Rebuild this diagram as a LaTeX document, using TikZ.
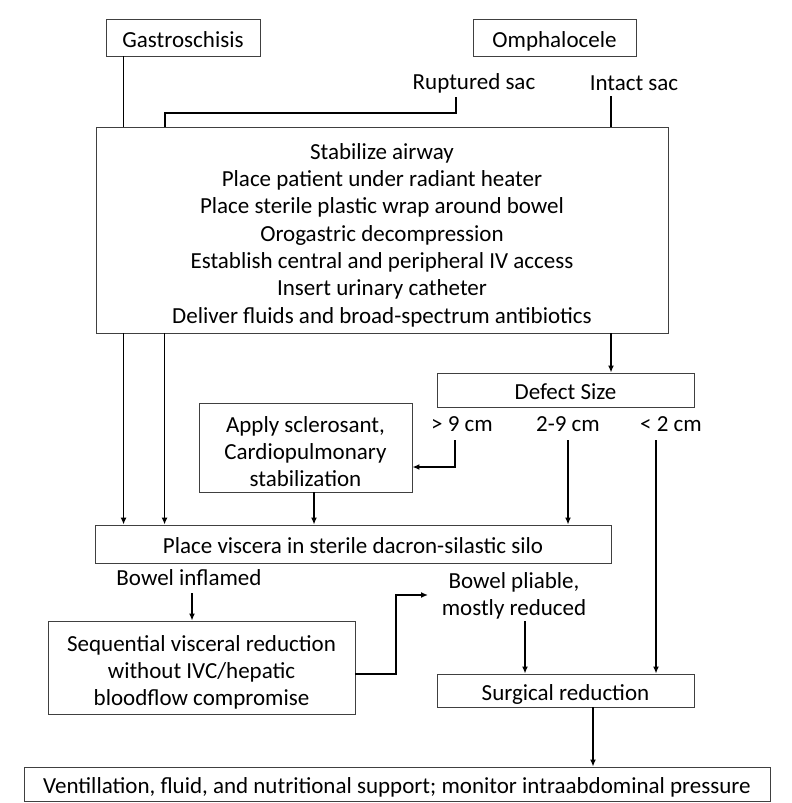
\documentclass[tikz,border=0pt]{standalone}
\usepackage{fontspec}
\setmainfont{Carlito}
\usetikzlibrary{arrows.meta,calc}
\begin{document}
\begin{tikzpicture}[x=1pt,y=-1pt,
  box/.style={draw=black!75,line width=0.9pt,rectangle,inner sep=2pt,align=center,font=\fontsize{23}{27.3}\selectfont},
  oneline/.style={text height=19pt,text depth=0pt},
  lbl/.style={inner sep=1pt,align=center,font=\fontsize{23}{27.3}\selectfont},
  conn/.style={line width=1.5pt,black},
  arr/.style={conn,-{Latex[length=7pt,width=6pt]}}]
\useasboundingbox[fill=white] (0,0) rectangle (792,803);
% boxes
\node[box,oneline,minimum width=154pt,minimum height=37pt] (gas) at (183,37.5) {Gastroschisis};
\node[box,oneline,minimum width=163pt,minimum height=37pt] (omph) at (554.5,37.5) {Omphalocele};
\node[box,minimum width=572pt,minimum height=206pt] (main) at (382,230) {};
\node[lbl] (maintext) at ($(main.center)+(0,5)$) {Stabilize airway\\Place patient under radiant heater\\Place sterile plastic wrap around bowel\\Orogastric decompression\\Establish central and peripheral IV access\\Insert urinary catheter\\Deliver fluids and broad-spectrum antibiotics};
\node[box,oneline,minimum width=257pt,minimum height=34pt] (defect) at (565.5,390) {Defect Size};
\node[box,minimum width=213pt,minimum height=89pt] (apply) at (305.5,447.5) {};
\node[lbl] (applytext) at ($(apply.center)+(0,4)$) {Apply sclerosant,\\Cardiopulmonary\\stabilization};
\node[box,oneline,minimum width=516pt,minimum height=38pt] (silo) at (353,544) {Place viscera in sterile dacron-silastic silo};
\node[box,minimum width=307pt,minimum height=93pt] (seq) at (201.5,667.5) {};
\node[lbl] (seqtext) at ($(seq.center)+(0,5)$) {Sequential visceral reduction\\without IVC/hepatic\\bloodflow compromise};
\node[box,oneline,minimum width=257pt,minimum height=33pt] (surg) at (565.5,690.5) {Surgical reduction};
\node[box,oneline,minimum width=746pt,minimum height=34pt] (vent) at (397,784) {Ventillation, fluid, and nutritional support; monitor intraabdominal pressure};
% labels
\node[lbl] (rupt) at (474,83) {Ruptured sac};
\node[lbl] (intact) at (634,83) {Intact sac};
\node[lbl] (gt) at (462,424) {> 9 cm};
\node[lbl] (mid) at (568,424) {2-9 cm};
\node[lbl] (lt) at (671,424) {< 2 cm};
\node[lbl] (infl) at (189,578) {Bowel inflamed};
\node[lbl] (pli) at (514,596) {Bowel pliable,\\mostly reduced};
% helper coordinates
\coordinate (g1) at ($(gas.south west)+(18,0)$);
\coordinate (r1) at (456,97);
\coordinate (r2) at (165,113);
\coordinate (i1) at (611,96);
\coordinate (m1) at ($(main.south west)+(28,0)$);
\coordinate (m2) at ($(main.south west)+(69,0)$);
\coordinate (m3) at (611,333);
\coordinate (gt1) at (455,440);
\coordinate (gt2) at (455,467);
\coordinate (mid1) at (568,440);
\coordinate (lt1) at (656,440);
\coordinate (ap1) at (314,492);
\coordinate (in1) at (192,593);
\coordinate (sq1) at (355,674);
\coordinate (sq2) at (396,595);
\coordinate (pl1) at (428,595);
\coordinate (pl2) at (525,621);
\coordinate (su1) at (593,707);
% connectors
\draw[conn] (g1) -- (g1 |- main.north);
\draw[conn] (r1) |- (r2) -- (r2 |- main.north);
\draw[conn] (i1) -- (i1 |- main.north);
\draw[arr] (m1) -- (m1 |- silo.north);
\draw[arr] (m2) -- (m2 |- silo.north);
\draw[arr] (m3) -- (m3 |- defect.north);
\draw[arr] (gt1) -- (gt2) -- (gt2 -| apply.east);
\draw[arr] (ap1) -- (ap1 |- silo.north);
\draw[arr] (mid1) -- (mid1 |- silo.north);
\draw[arr] (lt1) -- (lt1 |- surg.north);
\draw[arr] (in1) -- (in1 |- seq.north);
\draw[arr] (sq1) -| (sq2) -- (pl1);
\draw[arr] (pl2) -- (pl2 |- surg.north);
\draw[arr] (su1) -- (su1 |- vent.north);
\end{tikzpicture}
\end{document}
